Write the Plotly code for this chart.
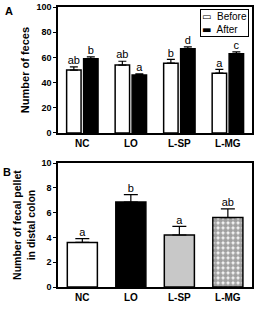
import plotly.graph_objects as go

groups = ["NC", "LO", "L-SP", "L-MG"]
before = [50, 54, 55.5, 47.5]
before_err = [2.5, 3, 3, 3]
after = [59, 46, 67, 63]
after_err = [1.5, 1, 1.5, 1.5]
before_letters = ["ab", "ab", "b", "a"]
after_letters = ["b", "a", "d", "c"]

pellets = [3.6, 6.85, 4.2, 5.6]
pellets_err = [0.3, 0.6, 0.7, 0.7]
pellet_letters = ["a", "b", "a", "ab"]

FONT = "Liberation Sans, Arial, sans-serif"

fig = go.Figure()

def err(e, w):
    return dict(type="data", array=e, arrayminus=[0]*len(e), symmetric=False,
                color="black", thickness=1.2, width=w)

fig.add_trace(go.Bar(x=groups, y=before, name="Before", offsetgroup="b",
                     marker=dict(color="white", line=dict(color="black", width=1.5)),
                     error_y=err(before_err, 4), xaxis="x", yaxis="y"))
fig.add_trace(go.Bar(x=groups, y=after, name="After", offsetgroup="a",
                     marker=dict(color="black", line=dict(color="black", width=1.5)),
                     error_y=err(after_err, 4), xaxis="x", yaxis="y"))
fig.add_trace(go.Scatter(x=groups, y=[v + e for v, e in zip(before, before_err)],
                         text=before_letters, mode="text", textposition="top center",
                         offsetgroup="b", showlegend=False, xaxis="x", yaxis="y",
                         textfont=dict(family=FONT, size=11, color="black")))
fig.add_trace(go.Scatter(x=groups, y=[v + e for v, e in zip(after, after_err)],
                         text=after_letters, mode="text", textposition="top center",
                         offsetgroup="a", showlegend=False, xaxis="x", yaxis="y",
                         textfont=dict(family=FONT, size=11, color="black")))

colors_b = ["white", "black", "#c8c8c8", "white"]
fig.add_trace(go.Bar(x=groups, y=pellets, showlegend=False,
                     marker=dict(color=colors_b, line=dict(color="black", width=1.5),
                                 pattern=dict(shape=["", "", "", "."], fgcolor="black",
                                              bgcolor="white", size=5, solidity=0.75)),
                     error_y=err(pellets_err, 7), xaxis="x2", yaxis="y2", width=0.62))
fig.add_trace(go.Scatter(x=groups, y=[v + e for v, e in zip(pellets, pellets_err)],
                         text=pellet_letters, mode="text", textposition="top center",
                         showlegend=False, xaxis="x2", yaxis="y2",
                         textfont=dict(family=FONT, size=11, color="black")))

axis_common = dict(showline=True, linecolor="black", linewidth=1.5, mirror=True,
                   showgrid=False, zeroline=False, automargin=False)
yax = dict(ticks="outside", ticklen=3, tickwidth=1.2, tickcolor="black",
           tickfont=dict(family=FONT, size=9, color="black", weight="bold"))
xax = dict(ticks="", tickfont=dict(family=FONT, size=10, color="black", weight="bold"))

legend_text = ("<span style='font-family:DejaVu Sans'>▭</span>  Before<br>"
               "<span style='font-family:DejaVu Sans'>▬</span>  After")

fig.update_layout(
    width=257, height=310,
    margin=dict(l=0, r=0, t=0, b=0, autoexpand=False),
    plot_bgcolor="white", paper_bgcolor="white",
    barmode="group", bargap=0.3, bargroupgap=0.15, scattermode="group",
    font=dict(family=FONT, color="black"),
    showlegend=False,
    xaxis=dict(domain=[0.226, 0.981], anchor="y", **axis_common, **xax),
    yaxis=dict(domain=[0.571, 0.977], anchor="x", range=[0, 100], dtick=20,
               title=dict(text="Number of feces", standoff=5,
                          font=dict(family=FONT, size=11, weight="bold")),
               **axis_common, **yax),
    xaxis2=dict(domain=[0.226, 0.981], anchor="y2", **axis_common, **xax),
    yaxis2=dict(domain=[0.074, 0.474], anchor="x2", range=[0, 10], dtick=2,
                title=dict(text="Number of fecal pellet<br>in distal colon", standoff=4,
                           font=dict(family=FONT, size=10.5, weight="bold")),
                **axis_common, **yax),
    annotations=[
        dict(text="<b>A</b>", x=0.01, y=0.99, xref="paper", yref="paper",
             xanchor="left", yanchor="top", showarrow=False, font=dict(size=11)),
        dict(text="<b>B</b>", x=0.005, y=0.472, xref="paper", yref="paper",
             xanchor="left", yanchor="top", showarrow=False, font=dict(size=11)),
        dict(text=legend_text, x=0.985, y=0.985, xref="x domain", yref="y domain",
             xanchor="right", yanchor="top", showarrow=False, align="left",
             bordercolor="black", borderwidth=1, borderpad=1, bgcolor="white",
             font=dict(family=FONT, size=10, color="black")),
    ],
)

fig.write_html("out.html", config={"displayModeBar": False},
               post_script="document.body.style.margin='0';")
